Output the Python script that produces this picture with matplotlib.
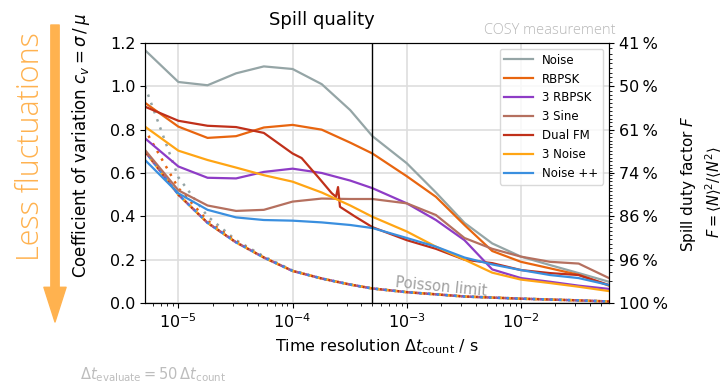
"""Spill quality: coefficient of variation vs. time resolution."""
import matplotlib
matplotlib.use("Agg")
import matplotlib.pyplot as plt
from matplotlib.ticker import FixedLocator, NullFormatter
import numpy as np

# time resolution in s
dt = [5.1e-6, 1.0e-5, 1.8e-5, 3.2e-5, 5.6e-5, 1.0e-4, 1.8e-4, 3.2e-4, 5.0e-4,
      1.0e-3, 1.8e-3, 3.2e-3, 5.6e-3, 1.0e-2, 1.8e-2, 3.2e-2, 5.9e-2]

cv_noise = [1.167, 1.02, 1.005, 1.06, 1.092, 1.08, 1.01, 0.89, 0.77,
            0.645, 0.51, 0.37, 0.275, 0.214, 0.175, 0.138, 0.098]
cv_rbpsk = [0.924, 0.814, 0.762, 0.77, 0.81, 0.822, 0.80, 0.74, 0.69,
            0.585, 0.49, 0.36, 0.24, 0.19, 0.16, 0.13, 0.08]
cv_3rbpsk = [0.76, 0.63, 0.578, 0.575, 0.605, 0.62, 0.60, 0.565, 0.53,
             0.46, 0.383, 0.29, 0.155, 0.115, 0.098, 0.08, 0.065]
cv_3sine = [0.706, 0.52, 0.45, 0.425, 0.43, 0.468, 0.482, 0.48, 0.48,
            0.46, 0.406, 0.30, 0.25, 0.214, 0.19, 0.182, 0.115]
cv_3noise = [0.814, 0.703, 0.66, 0.625, 0.59, 0.56, 0.51, 0.45, 0.398,
             0.33, 0.26, 0.20, 0.14, 0.108, 0.092, 0.075, 0.055]
cv_noisepp = [0.66, 0.506, 0.43, 0.395, 0.383, 0.38, 0.372, 0.36, 0.346,
              0.30, 0.26, 0.21, 0.178, 0.152, 0.129, 0.115, 0.083]

# Dual FM has its own sampling (kink and spike near 2.5e-4 s)
dt_dualfm = [5.1e-6, 1.0e-5, 1.8e-5, 3.2e-5, 5.6e-5, 1.0e-4, 1.2e-4, 1.7e-4,
             2.2e-4, 2.4e-4, 2.5e-4, 2.6e-4, 3.5e-4, 5.0e-4, 1.0e-3, 1.8e-3,
             3.2e-3, 5.6e-3, 1.0e-2, 1.8e-2, 3.2e-2, 5.9e-2]
cv_dualfm = [0.906, 0.841, 0.818, 0.812, 0.785, 0.69, 0.669, 0.577,
             0.507, 0.49, 0.535, 0.444, 0.40, 0.35, 0.29, 0.25,
             0.20, 0.184, 0.152, 0.138, 0.129, 0.083]

# Poisson limits (dotted)
cv_poisson = [0.70, 0.50, 0.37, 0.28, 0.21, 0.148, 0.113, 0.085, 0.067,
              0.05, 0.04, 0.03, 0.025, 0.02, 0.016, 0.012, 0.007]
cv_poisson_noise = [1.0, 0.58, 0.40, 0.29, 0.215, 0.15, 0.113, 0.085, 0.067,
                    0.05, 0.04, 0.03, 0.025, 0.02, 0.016, 0.012, 0.007]
cv_poisson_rbpsk = [0.80, 0.53, 0.38, 0.285, 0.21, 0.148, 0.113, 0.085, 0.067,
                    0.05, 0.04, 0.03, 0.025, 0.02, 0.016, 0.012, 0.007]

labels = ["Noise", "RBPSK", "3 RBPSK", "3 Sine", "Dual FM", "3 Noise", "Noise ++"]
colors = ["#95a5a6", "#e8650f", "#8e3cc6", "#b5705f", "#c0301a", "#ffa514", "#3a8fdf"]

cv_ticks = [0.0, 0.2, 0.4, 0.6, 0.8, 1.0, 1.2]

fig = plt.figure(figsize=(7.24, 3.84), dpi=100)
ax = fig.add_axes([145 / 724, 81 / 384, 464 / 724, 260 / 384])

series = [(dt, cv_noise), (dt, cv_rbpsk), (dt, cv_3rbpsk), (dt, cv_3sine),
          (dt_dualfm, cv_dualfm), (dt, cv_3noise), (dt, cv_noisepp)]
poisson = [cv_poisson_noise, cv_poisson_rbpsk, cv_poisson, cv_poisson,
           cv_poisson, cv_poisson, cv_poisson]

for i, (p, c) in enumerate(zip(poisson, colors)):
    ax.plot(dt, p, color=c, lw=1.8, linestyle=(i * 0.7, (1, 2.5)))

for (x, y), c, lab in zip(series, colors, labels):
    ax.plot(x, y, color=c, lw=1.6, label=lab)

ax.axvline(5e-4, color="black", lw=1)

ax.set_xscale("log")
ax.set_xlim(5.1e-6, 5.9e-2)
ax.set_ylim(0, 1.2)
ax.set_yticks(cv_ticks)
ax.set_axisbelow(True)
ax.grid(True, which="major", color="#dedede", lw=1.2)
ax.tick_params(labelsize=11.5)

ax.set_xlabel(r"Time resolution $\Delta t_\mathrm{count}$ / s", fontsize=11.5)
ax.set_ylabel(r"Coefficient of variation $c_v = \sigma\,/\,\mu$", fontsize=12)
ax.yaxis.set_label_coords(-0.114, 0.605)

ax.legend(loc="upper right", fontsize=8.5, handlelength=2.4,
          edgecolor="#d0d0d0", fancybox=True)

# right axis: duty factor F = 1 / (1 + cv^2)
ax2 = ax.twinx()
ax2.set_ylim(ax.get_ylim())
ax2.set_yticks(cv_ticks)
ax2.set_yticklabels([f"{100 / (1 + c * c):.0f}\u2009%" for c in cv_ticks])
f_minor = np.arange(0.41, 1.0, 0.01)
ax2.yaxis.set_minor_locator(FixedLocator(np.sqrt(1 / f_minor - 1)))
ax2.yaxis.set_minor_formatter(NullFormatter())
ax2.tick_params(labelsize=11.5)
ax2.tick_params(which="minor", length=2.5)

ax.text(2.0e-3, 0.074, "Poisson limit", color="#a0a0a0", fontsize=10.5,
        rotation=-5.5, ha="center", va="center")

fig.text(322 / 724, 1 - 20 / 384, "Spill quality", fontsize=13, ha="center", va="center")
fig.text(616 / 724, 1 - 31 / 384, "COSY measurement", fontsize=10.5, color="#b8b8b8",
         ha="right", va="center", family="Open Sans", weight="light")
fig.text(80 / 724, 1 - 375 / 384, r"$\Delta t_\mathrm{evaluate} = 50\,\Delta t_\mathrm{count}$",
         fontsize=10.5, color="#bdbdbd", ha="left", va="center")
fig.text(689 / 724, 0.5 + 8 / 384, r"Spill duty factor $F$", fontsize=11,
         rotation=90, ha="center", va="center")
fig.text(714 / 724, 0.5, r"$F = \langle N\rangle^2 / \langle N^2\rangle$", fontsize=10.5,
         rotation=90, ha="center", va="center")

# "less fluctuations" arrow
orange = "#ffb24f"
fig.text(31 / 724, 1 - 147 / 384, "Less fluctuations", fontsize=22, color=orange,
         rotation=90, ha="center", va="center", family="Open Sans", weight="light")
ax.annotate("", xy=(55, 384 - 322), xytext=(55, 384 - 25),
            xycoords="figure pixels", textcoords="figure pixels",
            arrowprops=dict(arrowstyle="simple,head_width=1.6,head_length=2.5,tail_width=0.6",
                            mutation_scale=10, color=orange, shrinkA=0, shrinkB=0))

fig.savefig("out.png", dpi=100)
